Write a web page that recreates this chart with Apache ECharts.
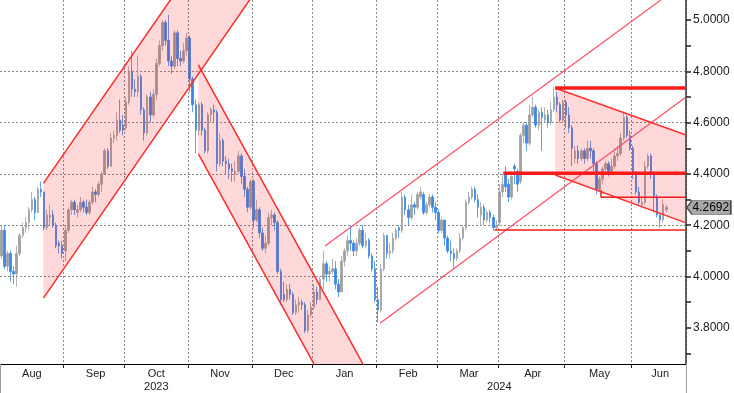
<!DOCTYPE html>
<html><head><meta charset="utf-8">
<script src="https://cdn.jsdelivr.net/npm/echarts@6/dist/echarts.min.js"></script>
<style>html,body{margin:0;padding:0;background:#fff}#chart{width:734px;height:393px}</style>
</head><body><div id="chart"></div>
<script>
// ---------- data ----------
const firstDay = [2023, 7, 3];   // 2023-08-03 (UTC month index)
const lastDay = [2024, 5, 27];   // 2024-06-27 (axis runs a little past the last bar)
const holidays = ['2023-09-04','2023-10-09','2023-11-23','2023-12-25','2024-01-01','2024-01-15',
  '2024-02-19','2024-03-29','2024-05-27','2024-06-19'];
const monthNames = ['Jan','Feb','Mar','Apr','May','Jun','Jul','Aug','Sep','Oct','Nov','Dec'];

const opens = [
 4.08,4.18,4.04,4.09,4.02,4.01,4.09,4.16,4.19,4.21,4.26,4.30,4.25,4.34,4.33,4.19,4.23,4.24,4.20,4.13,4.12,
 4.10,4.18,4.26,4.29,4.25,4.26,4.29,4.27,4.25,4.29,4.33,4.32,4.36,4.40,4.49,4.43,4.54,4.55,4.61,4.59,
 4.58,4.68,4.80,4.73,4.72,4.78,4.65,4.56,4.70,4.63,4.71,4.83,4.90,4.99,4.92,4.84,4.82,4.95,4.85,4.84,4.88,
 4.93,4.77,4.67,4.57,4.67,4.57,4.49,4.63,4.65,4.64,4.44,4.53,4.45,4.44,4.42,4.40,4.41,4.47,4.39,4.34,4.27,
 4.37,4.22,4.26,4.17,4.11,4.13,4.23,4.24,4.21,4.02,3.93,3.91,3.95,3.93,3.86,3.89,3.90,3.89,3.79,3.85,
 3.88,3.94,3.91,3.99,4.05,4.01,4.02,4.03,3.97,3.94,4.06,4.10,4.14,4.13,4.10,4.13,4.18,4.12,4.14,4.08,4.03,
 3.91,3.87,4.03,4.16,4.09,4.10,4.15,4.19,4.18,4.31,4.26,4.23,4.28,4.27,4.31,4.32,4.25,4.28,4.31,4.27,
 4.25,4.18,4.22,4.15,4.10,4.09,4.07,4.10,4.15,4.19,4.29,4.31,4.34,4.30,4.24,4.27,4.22,4.25,4.23,4.19,
 4.21,4.33,4.40,4.36,4.31,4.43,4.41,4.37,4.55,4.59,4.52,4.63,4.66,4.59,4.64,4.61,4.63,4.60,4.65,4.70,4.67,4.61,
 4.68,4.63,4.58,4.46,4.49,4.46,4.49,4.46,4.50,4.49,4.44,4.34,4.38,4.42,4.44,4.41,4.43,4.47,4.48,4.54,4.62,4.55,
 4.50,4.40,4.33,4.28,4.29,4.43,4.47,4.40,4.31,4.24,4.22,4.26
];
const highs = [
 4.20,4.20,4.10,4.10,4.04,4.12,4.17,4.21,4.23,4.27,4.33,4.31,4.35,4.37,4.33,4.26,4.28,4.26,4.21,4.14,4.14,
 4.20,4.27,4.30,4.30,4.28,4.31,4.30,4.30,4.30,4.35,4.34,4.37,4.41,4.50,4.50,4.56,4.57,4.64,4.69,4.63,
 4.70,4.82,4.88,4.77,4.86,4.79,4.66,4.71,4.72,4.73,4.85,4.92,5.00,5.00,5.02,4.86,4.96,4.96,4.88,4.91,4.95,
 4.94,4.78,4.69,4.68,4.68,4.58,4.64,4.66,4.67,4.65,4.56,4.54,4.47,4.46,4.44,4.45,4.49,4.48,4.42,4.35,4.38,
 4.38,4.30,4.27,4.19,4.16,4.25,4.26,4.25,4.22,4.03,3.98,3.97,3.97,3.94,3.91,3.92,3.91,3.90,3.87,3.90,
 3.97,3.96,4.00,4.10,4.06,4.04,4.07,4.06,3.99,4.08,4.11,4.16,4.20,4.14,4.15,4.19,4.20,4.17,4.15,4.09,4.06,
 3.96,4.05,4.17,4.16,4.13,4.17,4.19,4.20,4.33,4.32,4.28,4.32,4.29,4.33,4.35,4.33,4.29,4.32,4.32,4.29,
 4.26,4.23,4.22,4.16,4.14,4.11,4.11,4.17,4.20,4.30,4.33,4.35,4.35,4.32,4.29,4.28,4.26,4.26,4.24,4.22,
 4.36,4.40,4.43,4.38,4.41,4.44,4.42,4.56,4.60,4.60,4.67,4.70,4.67,4.65,4.66,4.66,4.65,4.68,4.74,4.72,4.68,4.69,
 4.69,4.66,4.59,4.51,4.51,4.50,4.50,4.53,4.53,4.50,4.45,4.39,4.43,4.45,4.45,4.46,4.50,4.51,4.56,4.64,4.63,4.57,
 4.51,4.41,4.35,4.31,4.45,4.48,4.48,4.41,4.32,4.25,4.30,4.28
];
const lows = [
 4.07,4.03,4.02,3.98,3.97,3.96,4.08,4.15,4.17,4.18,4.25,4.22,4.25,4.31,4.18,4.18,4.20,4.19,4.11,4.09,4.07,
 4.06,4.17,4.24,4.24,4.23,4.25,4.25,4.24,4.24,4.28,4.29,4.31,4.33,4.40,4.42,4.43,4.52,4.53,4.56,4.55,
 4.57,4.67,4.70,4.70,4.70,4.63,4.53,4.55,4.60,4.62,4.69,4.82,4.88,4.90,4.82,4.79,4.81,4.82,4.82,4.83,4.86,
 4.72,4.64,4.48,4.55,4.55,4.48,4.48,4.60,4.60,4.41,4.43,4.43,4.40,4.38,4.37,4.37,4.40,4.36,4.31,4.25,4.26,
 4.19,4.21,4.15,4.10,4.09,4.12,4.20,4.18,4.01,3.89,3.90,3.90,3.91,3.85,3.85,3.86,3.87,3.78,3.78,3.84,
 3.87,3.89,3.91,3.95,3.98,3.98,4.01,3.95,3.92,3.94,4.04,4.08,4.10,4.08,4.08,4.12,4.11,4.11,4.07,4.02,3.90,
 3.82,3.86,4.02,4.07,4.07,4.09,4.14,4.15,4.17,4.24,4.20,4.22,4.24,4.26,4.30,4.24,4.24,4.27,4.25,4.22,
 4.17,4.17,4.12,4.09,4.06,4.03,4.06,4.09,4.14,4.18,4.28,4.30,4.29,4.23,4.20,4.20,4.21,4.21,4.18,4.18,
 4.20,4.31,4.33,4.29,4.30,4.36,4.33,4.36,4.52,4.49,4.51,4.62,4.58,4.57,4.49,4.60,4.58,4.59,4.64,4.64,4.60,4.60,
 4.58,4.56,4.43,4.44,4.44,4.45,4.44,4.45,4.46,4.41,4.32,4.33,4.36,4.41,4.39,4.40,4.42,4.45,4.47,4.53,4.54,4.49,
 4.38,4.32,4.28,4.27,4.28,4.42,4.38,4.25,4.23,4.19,4.21,4.25
];
const closes = [
 4.18,4.04,4.09,4.02,4.01,4.09,4.16,4.19,4.21,4.26,4.30,4.25,4.34,4.33,4.19,4.24,4.24,4.20,4.12,4.12,4.09,
 4.18,4.26,4.29,4.26,4.26,4.29,4.27,4.25,4.29,4.33,4.32,4.36,4.40,4.49,4.43,4.54,4.55,4.61,4.57,4.57,
 4.68,4.80,4.73,4.72,4.78,4.65,4.56,4.70,4.63,4.71,4.83,4.90,4.99,4.92,4.84,4.82,4.95,4.85,4.84,4.88,4.93,
 4.77,4.67,4.57,4.67,4.57,4.49,4.63,4.65,4.64,4.44,4.53,4.45,4.44,4.42,4.41,4.41,4.47,4.39,4.34,4.27,4.37,
 4.22,4.26,4.17,4.11,4.13,4.23,4.24,4.21,4.02,3.91,3.91,3.95,3.93,3.86,3.89,3.90,3.89,3.79,3.85,3.88,
 3.94,3.91,3.99,4.05,4.01,4.02,4.03,3.97,3.94,4.06,4.10,4.14,4.13,4.10,4.13,4.18,4.12,4.14,4.08,4.03,3.91,
 3.87,4.03,4.16,4.09,4.10,4.15,4.18,4.18,4.31,4.26,4.23,4.28,4.27,4.32,4.33,4.25,4.28,4.31,4.27,4.25,
 4.18,4.22,4.15,4.10,4.09,4.07,4.10,4.15,4.19,4.29,4.31,4.34,4.30,4.27,4.27,4.22,4.25,4.23,4.19,4.20,
 4.33,4.36,4.35,4.31,4.39,4.42,4.36,4.55,4.59,4.52,4.63,4.66,4.59,4.64,4.62,4.63,4.60,4.65,4.70,4.67,4.61,4.68,
 4.63,4.58,4.50,4.49,4.46,4.49,4.46,4.50,4.49,4.44,4.34,4.38,4.42,4.44,4.41,4.43,4.47,4.48,4.54,4.62,4.55,4.50,
 4.40,4.33,4.29,4.29,4.43,4.47,4.40,4.31,4.24,4.22,4.28,4.2692
];

const yRange = [3.659, 5.078];
const yTickValues = [3.7, 3.8, 3.9, 4.0, 4.1, 4.2, 4.3, 4.4, 4.5, 4.6, 4.7, 4.8, 4.9, 5.0];
const yLabelValues = [3.8, 4.0, 4.2, 4.4, 4.6, 4.8, 5.0];

// trend drawings, as [bar index, yield]
const upChannelUpper = [[13.8, 4.363], [85, 5.580]];
const upChannelLower = [[13.8, 3.916], [85, 5.134]];
const downChannelUpper = [[64.84, 4.825], [140, 3.209]];
const downChannelLower = [[64.84, 4.478], [140, 2.862]];
const riseUpper = [[106.6, 4.119], [225.5, 5.150]];
const riseLower = [[124.7, 3.8175], [225.5, 4.700]];
const wedgeUpper = [[182.4, 4.735], [225.5, 4.552]];
const wedgeLower = [[182.4, 4.396], [225.5, 4.209]];
const levelTop = [[182.4, 4.735], [225.5, 4.735]];
const levelMid = [[165.3, 4.403], [225.5, 4.403]];
const levelLow = [[162.4, 4.181], [225.5, 4.181]];
const levelMay = [[197.5, 4.337], [197.5, 4.309], [225.5, 4.309]];

// ---------- build ----------
const dates = [];
for (let t = Date.UTC(...firstDay); t <= Date.UTC(...lastDay); t += 86400000) {
  const d = new Date(t);
  const wd = d.getUTCDay();
  const s = d.toISOString().slice(0, 10);
  if (wd === 0 || wd === 6 || holidays.includes(s)) continue;
  dates.push(s);
}
const N = dates.length;
const xMax = N - 0.5;

function groups(keyFn) {
  const out = [];
  dates.forEach((d, i) => {
    const k = keyFn(d);
    if (!out.length || out[out.length - 1].key !== k) out.push({ key: k, s: i, e: i });
    else out[out.length - 1].e = i;
  });
  return out;
}
const months = groups(d => d.slice(0, 7));
const years = groups(d => d.slice(0, 4));
const monthStart = new Set(months.slice(1).map(g => g.s));
const monthMid = new Set(months.map(g => Math.round((g.s + g.e) / 2)));
const yearStart = new Set(years.slice(1).map(g => g.s));
const yearMid = new Set(years.map(g => Math.round((g.s + g.e) / 2)));

const candleData = closes.map((c, i) => [opens[i], c, lows[i], highs[i]]);
const lastClose = closes[closes.length - 1];

const FONT = 'Liberation Sans, Arial, sans-serif';
const gridLine = { color: '#8a8a8a', width: 1, type: [2, 2] };

function fillSeries(upper, lower) {
  const pts = [upper[0], upper[1], lower[1], lower[0]];
  return {
    type: 'custom', xAxisIndex: 2, yAxisIndex: 0, clip: true, z: 3, silent: true,
    data: [0],
    renderItem: (params, api) => ({
      type: 'polygon',
      shape: { points: pts.map(p => api.coord(p)) },
      style: { fill: 'rgba(255,0,0,0.15)' }
    })
  };
}
function lineSeries(pts, color, width, extra) {
  return Object.assign({
    type: 'line', xAxisIndex: 2, yAxisIndex: 0, data: pts, symbol: 'none', z: 4, silent: true,
    clip: true, animation: false,
    lineStyle: { color: color, width: width }
  }, extra || {});
}

const chart = echarts.init(document.getElementById('chart'), null, { renderer: 'canvas' });
chart.setOption({
  animation: false,
  backgroundColor: '#ffffff',
  grid: { left: 0, right: 48, top: 0, bottom: 29, containLabel: false },
  xAxis: [
    {
      type: 'category', data: dates, boundaryGap: true, position: 'bottom',
      axisLine: { show: true, onZero: false, lineStyle: { color: '#000', width: 1 } },
      axisTick: { show: true, interval: i => monthStart.has(i), length: 4, lineStyle: { color: '#222' } },
      splitLine: { show: true, interval: i => monthStart.has(i), lineStyle: gridLine },
      axisLabel: {
        interval: i => monthMid.has(i), margin: 4, color: '#1a1a1a', fontSize: 11, fontFamily: FONT,
        formatter: v => monthNames[parseInt(v.slice(5, 7), 10) - 1]
      }
    },
    {
      type: 'category', data: dates, boundaryGap: true, position: 'bottom',
      axisLine: { show: false, onZero: false },
      axisTick: { show: true, interval: i => yearStart.has(i), length: 29, lineStyle: { color: '#9a9a9a' } },
      splitLine: { show: false },
      axisLabel: {
        interval: i => yearMid.has(i), margin: 17, color: '#1a1a1a', fontSize: 11, fontFamily: FONT,
        formatter: v => v.slice(0, 4)
      }
    },
    { type: 'value', min: -0.5, max: xMax, show: false }
  ],
  yAxis: [
    {
      type: 'value', position: 'right', min: yRange[0], max: yRange[1], scale: true,
      splitNumber: 7, minInterval: 0.2, maxInterval: 0.2,
      axisLine: { show: true, onZero: false, lineStyle: { color: '#333', width: 1.5 } },
      axisTick: { show: true, customValues: yTickValues, length: 5, lineStyle: { color: '#222', width: 1.5 } },
      axisLabel: { show: true, customValues: yLabelValues, margin: 7, color: '#1a1a1a', fontSize: 12, fontFamily: FONT,
        formatter: v => v.toFixed(4) },
      splitLine: { show: false }
    },
    {
      // horizontal dotted grid only
      type: 'value', position: 'right', min: yRange[0], max: yRange[1], scale: true,
      splitNumber: 7, minInterval: 0.2, maxInterval: 0.2,
      axisLine: { show: false }, axisLabel: { show: false },
      axisTick: { show: false, customValues: yLabelValues },
      splitLine: { show: true, lineStyle: gridLine, showMinLine: false, showMaxLine: false }
    }
  ],
  series: [
    {
      type: 'candlestick', xAxisIndex: 0, yAxisIndex: 0, data: candleData, z: 2, silent: true,
      barWidth: 2,
      itemStyle: { color: '#a0a0a0', color0: '#3a86ea', borderColor: '#a0a0a0', borderColor0: '#3a86ea', borderWidth: 0.8 }
    },
    fillSeries(upChannelUpper, upChannelLower),
    fillSeries(downChannelUpper, downChannelLower),
    fillSeries(wedgeUpper, wedgeLower),
    lineSeries(upChannelUpper, '#ff2b2b', 1.5),
    lineSeries(upChannelLower, '#ff2b2b', 1.5),
    lineSeries(downChannelUpper, '#ff2b2b', 1.5),
    lineSeries(downChannelLower, '#ff2b2b', 1.5),
    lineSeries(riseUpper, '#ff4d66', 1.2),
    lineSeries(riseLower, '#ff4d66', 1.2),
    lineSeries(wedgeUpper, '#ff3030', 1.5),
    lineSeries(levelTop, '#ff1a1a', 3.5),
    lineSeries(levelMid, '#ff1a1a', 3.5),
    lineSeries(levelLow, '#ff1a1a', 1.5),
    lineSeries(levelMay, '#ff1a1a', 1.5),
    lineSeries(wedgeLower, '#ff3030', 1.5, {
      markPoint: {
        silent: true,
        symbol: 'path://M0,7L6,0L50,0L50,14L6,14Z',
        symbolSize: [44, 14],
        symbolKeepAspect: false,
        symbolOffset: [22.8, 0],
        itemStyle: { color: '#a9a9a9', borderColor: '#4d4d4d', borderWidth: 1 },
        label: { show: true, position: 'inside', offset: [2, 0], color: '#000', fontSize: 12, fontFamily: FONT,
          formatter: () => lastClose.toFixed(4) },
        data: [{ coord: [xMax, lastClose] }]
      }
    })
  ]
});
</script>
</body></html>
